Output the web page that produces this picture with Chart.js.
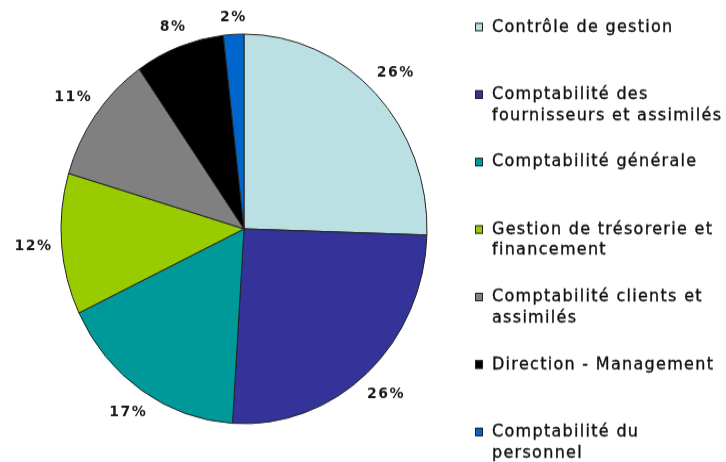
<!DOCTYPE html>
<html><head><meta charset="utf-8">
<script src="https://cdn.jsdelivr.net/npm/chart.js@4"></script>
<style>
html,body{margin:0;padding:0;background:#fff;overflow:hidden;width:726px;height:462px;}
#wrap{position:absolute;left:0;top:0;width:726px;height:434px;transform:scaleY(1.0645);transform-origin:0 0;}
canvas{display:block;}
</style></head><body>
<div id="wrap"><canvas id="c" width="726" height="434"></canvas></div>
<script>
const categories = [
  ["Contrôle de gestion"],
  ["Comptabilité des", "fournisseurs et assimilés"],
  ["Comptabilité générale"],
  ["Gestion de trésorerie et", "financement"],
  ["Comptabilité clients et", "assimilés"],
  ["Direction - Management"],
  ["Comptabilité du", "personnel"]
];
const values = [25.5, 25.5, 16.9, 11.7, 10.7, 7.9, 1.8];
const pctLabels = ["26%", "26%", "17%", "12%", "11%", "8%", "2%"];
const colors = ["#BBE0E3", "#333399", "#009999", "#99CC00", "#808080", "#000000", "#0066CC"];

const pctPlugin = {
  id: 'pct',
  afterDatasetsDraw(chart) {
    const ctx = chart.ctx;
    const meta = chart.getDatasetMeta(0);
    ctx.save();
    ctx.font = 'bold 14px "DejaVu Sans"';
    try { ctx.letterSpacing = '1.5px'; } catch (e) {}
    ctx.fillStyle = '#1a1a1a';
    ctx.textAlign = 'left';
    ctx.textBaseline = 'middle';
    meta.data.forEach((arc, i) => {
      const p = arc.getProps(['x', 'y', 'startAngle', 'endAngle', 'outerRadius'], true);
      const mid = (p.startAngle + p.endAngle) / 2;
      const c = Math.cos(mid), s = Math.sin(mid);
      const w = ctx.measureText(pctLabels[i]).width;
      const h = 12;
      const off = 9.5 + Math.abs(c) * w / 2 + Math.abs(s) * h / 2;
      const cx = p.x + (p.outerRadius + off) * c;
      const cy = p.y + (p.outerRadius + off) * s;
      ctx.fillText(pctLabels[i], cx - w / 2 + 0.75, cy);
    });
    ctx.restore();
  }
};

const legendPlugin = {
  id: 'sideLegend',
  afterDraw(chart) {
    const ctx = chart.ctx;
    const x0 = 475, top = 25.4, itemGap = 63.4, lineGap = 19.7;
    ctx.save();
    ctx.font = '16px "DejaVu Sans"';
    try { ctx.letterSpacing = '1.3px'; } catch (e) {}
    ctx.textAlign = 'left';
    ctx.textBaseline = 'middle';
    categories.forEach((lines, i) => {
      const y = top + i * itemGap;
      ctx.fillStyle = colors[i];
      ctx.fillRect(x0, y - 4, 8, 8);
      ctx.strokeStyle = '#222';
      ctx.lineWidth = 1;
      ctx.strokeRect(x0 + 0.5, y - 3.5, 7, 7);
      ctx.fillStyle = '#111';
      ctx.strokeStyle = '#111';
      ctx.lineWidth = 0.35;
      lines.forEach((t, j) => {
        ctx.fillText(t, x0 + 17, y + j * lineGap);
        ctx.strokeText(t, x0 + 17, y + j * lineGap);
      });
    });
    ctx.restore();
  }
};

new Chart(document.getElementById('c'), {
  type: 'pie',
  data: {
    labels: categories,
    datasets: [{
      data: values,
      backgroundColor: colors,
      borderColor: '#222',
      borderWidth: 1
    }]
  },
  options: {
    responsive: false,
    animation: false,
    radius: 183,
    layout: { padding: { left: 61, right: 299, top: 32, bottom: 36 } },
    plugins: { legend: { display: false }, tooltip: { enabled: false } }
  },
  plugins: [pctPlugin, legendPlugin]
});
</script>
</body></html>
